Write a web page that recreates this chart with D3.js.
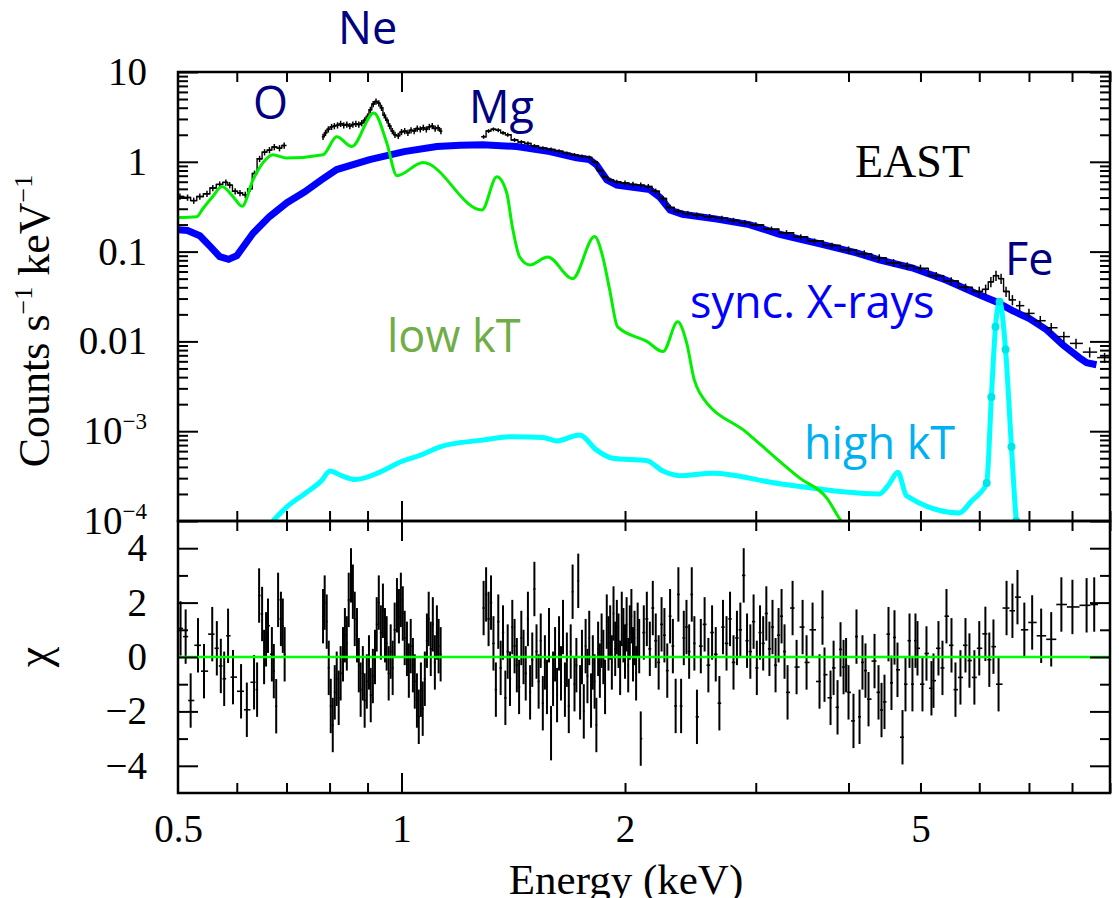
<!DOCTYPE html>
<html>
<head>
<meta charset="utf-8">
<script src="https://cdn.jsdelivr.net/npm/d3@7/dist/d3.min.js"></script>
<style>
    body { margin: 0; background: #fff; }
    svg text { font-family: "Liberation Serif", "Times New Roman", serif; }
</style>
</head>
<body>
<div id="chart"></div>
<script>
// tick labels
var xTickVals = [0.5, 1, 2, 5];
var xTickText = ["0.5", "1", "2", "5"];
var yTickVals = [10, 1, 0.1, 0.01, 1e-3, 1e-4];
var yTickText = ["10", "1", "0.1", "0.01", "10^−3", "10^−4"];
var chiTickVals = [4, 2, 0, -2, -4];
var chiTickText = ["4", "2", "0", "−2", "−4"];

// synchrotron (blue) model, keV / counts s-1 keV-1
var syncE = [0.5, 0.515, 0.535, 0.552, 0.569, 0.585, 0.60, 0.631, 0.664, 0.701, 0.74, 0.78, 0.818, 0.906, 1.008, 1.116, 1.2, 1.286, 1.43, 1.584, 1.72, 1.79, 1.83, 1.89, 1.95, 2.05, 2.16, 2.23, 2.30, 2.39, 2.66, 2.94, 3.23, 3.66, 4.10, 4.40, 4.87, 5.42, 6.0, 6.33, 6.65, 7.01, 7.39, 7.77, 8.18, 8.37, 8.63];
var syncV = [0.175, 0.172, 0.15, 0.115, 0.088, 0.082, 0.09, 0.16, 0.245, 0.35, 0.46, 0.63, 0.82, 1.06, 1.3, 1.48, 1.53, 1.55, 1.48, 1.30, 1.11, 1.06, 0.93, 0.63, 0.55, 0.52, 0.49, 0.40, 0.29, 0.26, 0.23, 0.20, 0.156, 0.122, 0.097, 0.081, 0.066, 0.048, 0.033, 0.0275, 0.022, 0.018, 0.0135, 0.0092, 0.0066, 0.0058, 0.0055];

// low kT (green) model
var lowE = [0.5, 0.53, 0.54, 0.557, 0.573, 0.593, 0.61, 0.631, 0.651, 0.671, 0.70, 0.784, 0.818, 0.857, 0.918, 0.955, 0.986, 1.069, 1.283, 1.344, 1.386, 1.41, 1.443, 1.489, 1.574, 1.70, 1.82, 1.867, 1.907, 1.955, 2.14, 2.25, 2.355, 2.42, 2.48, 2.52, 2.92, 3.44, 3.74, 3.91, 4.0];
var lowV = [0.24, 0.245, 0.30, 0.41, 0.53, 0.41, 0.32, 0.63, 0.98, 1.2, 1.1, 1.2, 1.9, 1.48, 3.5, 1.64, 0.7, 0.98, 0.29, 0.68, 0.45, 0.19, 0.087, 0.071, 0.087, 0.05, 0.147, 0.087, 0.0376, 0.0145, 0.01, 0.0077, 0.0165, 0.0098, 0.0037, 0.0027, 9.6e-4, 3.0e-4, 1.8e-4, 1.0e-4, 8e-5];

// high kT (cyan) model
var highE = [0.671, 0.701, 0.74, 0.78, 0.801, 0.83, 0.866, 0.935, 1.0, 1.06, 1.127, 1.275, 1.413, 1.55, 1.618, 1.738, 1.83, 1.925, 2.14, 2.25, 2.37, 2.62, 3.23, 4.40, 4.54, 4.66, 4.79, 5.64, 5.87, 6.0, 6.14, 6.23, 6.31, 6.39, 6.51, 6.63, 6.73, 6.8];
var highV = [1.0e-4, 1.44e-4, 2.0e-4, 2.8e-4, 3.6e-4, 3.2e-4, 2.9e-4, 3.5e-4, 4.6e-4, 5.4e-4, 6.7e-4, 7.9e-4, 8.7e-4, 8.5e-4, 7.8e-4, 9.1e-4, 6.2e-4, 5.0e-4, 4.7e-4, 3.6e-4, 3.2e-4, 3.4e-4, 2.6e-4, 2.0e-4, 2.6e-4, 3.5e-4, 1.9e-4, 1.23e-4, 1.7e-4, 2.0e-4, 2.65e-4, 2.4e-3, 0.0146, 0.0276, 8.1e-3, 6.7e-4, 1.0e-4, 5e-5];

// observed spectrum (black), three energy pieces
var obsAE = [0.503, 0.515, 0.525, 0.535, 0.547, 0.557, 0.569, 0.58, 0.587, 0.597, 0.606, 0.616, 0.625, 0.634, 0.644, 0.654, 0.664, 0.674, 0.685, 0.695];
var obsAV = [0.41, 0.40, 0.37, 0.41, 0.44, 0.51, 0.56, 0.59, 0.55, 0.47, 0.45, 0.43, 0.50, 0.74, 1.08, 1.28, 1.35, 1.46, 1.42, 1.52];
var obsBE = [0.784, 0.79, 0.797, 0.805, 0.812, 0.82, 0.828, 0.836, 0.844, 0.852, 0.86, 0.868, 0.876, 0.884, 0.892, 0.90, 0.908, 0.916, 0.924, 0.932, 0.94, 0.948, 0.956, 0.964, 0.972, 0.98, 0.99, 1.0, 1.01, 1.02, 1.03, 1.04, 1.05, 1.06, 1.07, 1.08, 1.09, 1.10, 1.11, 1.12, 1.13];
var obsBV = [1.9, 2.1, 2.3, 2.45, 2.5, 2.55, 2.65, 2.55, 2.6, 2.5, 2.6, 2.65, 2.6, 2.7, 2.9, 3.2, 3.8, 4.4, 4.7, 4.5, 4.0, 3.3, 2.9, 2.5, 2.2, 2.0, 1.95, 2.15, 2.2, 2.1, 2.25, 2.2, 2.35, 2.3, 2.4, 2.3, 2.45, 2.5, 2.35, 2.4, 2.2];
var obsCE = [1.29, 1.31, 1.33, 1.35, 1.37, 1.39, 1.42, 1.45, 1.48, 1.51, 1.55, 1.59, 1.63, 1.67, 1.71, 1.75, 1.79, 1.82, 1.85, 1.88, 1.91, 1.95, 2.0, 2.05, 2.1, 2.15, 2.2, 2.25, 2.3, 2.36, 2.43, 2.5, 2.6, 2.7, 2.8, 2.9, 3.0, 3.15, 3.3, 3.45, 3.6, 3.8, 4.0, 4.2, 4.4, 4.6, 4.8, 5.0, 5.25, 5.5, 5.75, 6.0, 6.12, 6.22, 6.32, 6.42, 6.52, 6.65, 6.8, 7.0, 7.25, 7.5, 7.8, 8.1, 8.45, 8.85];
var obsCV = [1.9, 2.2, 2.3, 2.25, 2.1, 2.0, 1.75, 1.66, 1.6, 1.5, 1.42, 1.37, 1.31, 1.24, 1.19, 1.15, 1.12, 1.0, 0.8, 0.68, 0.63, 0.6, 0.58, 0.56, 0.55, 0.53, 0.47, 0.39, 0.31, 0.28, 0.265, 0.255, 0.245, 0.235, 0.222, 0.21, 0.198, 0.178, 0.162, 0.146, 0.131, 0.117, 0.104, 0.094, 0.085, 0.075, 0.069, 0.065, 0.054, 0.047, 0.040, 0.036, 0.038, 0.046, 0.054, 0.050, 0.036, 0.029, 0.025, 0.0205, 0.017, 0.0142, 0.0113, 0.0095, 0.0076, 0.0066];

// residuals chi, [keV, chi]
var resA = [[0.504, 1.05], [0.512, 0.75], [0.520, -1.6], [0.532, 0.43], [0.542, -0.52], [0.556, 0.84], [0.564, 0.32], [0.571, -0.33], [0.577, -0.8], [0.584, 0.78], [0.593, -0.74], [0.608, -1.26], [0.619, -1.94], [0.633, -0.93], [0.639, -1.2], [0.643, 2.26], [0.649, 1.58], [0.653, 0.0], [0.657, 0.65], [0.661, 1.15], [0.669, 0.1], [0.673, -0.52], [0.678, -1.81], [0.682, 2.1], [0.688, 1.4], [0.692, 1.15], [0.696, 0.1]];
var resBE = [0.784, 0.788, 0.793, 0.798, 0.803, 0.808, 0.813, 0.818, 0.823, 0.828, 0.834, 0.839, 0.844, 0.849, 0.855, 0.860, 0.865, 0.871, 0.876, 0.881, 0.887, 0.892, 0.898, 0.904, 0.909, 0.915, 0.921, 0.926, 0.932, 0.938, 0.944, 0.950, 0.955, 0.961, 0.967, 0.973, 0.979, 0.986, 0.992, 0.998, 1.004, 1.010, 1.017, 1.023, 1.029, 1.036, 1.042, 1.049, 1.055, 1.062, 1.068, 1.075, 1.082, 1.088, 1.095, 1.102, 1.109, 1.116, 1.122, 1.129];
var resBChi = [1.5, 2.0, 1.3, -0.4, -1.8, -2.5, -1.3, -0.8, -1.5, -0.6, 0.1, 0.8, 0.5, 2.1, 3.0, 2.4, 1.4, 0.8, -0.3, -1.2, -0.6, -1.6, -0.9, -0.2, -1.4, -0.7, 0.0, 1.2, 2.0, 0.9, 1.7, 0.8, 0.5, -0.6, 0.2, -0.4, 1.0, 1.9, 1.5, 2.1, 1.6, 0.7, 0.3, -0.5, 0.4, -0.3, -0.9, -1.6, -2.2, -1.2, -1.9, -0.8, 0.6, 1.4, 0.3, 1.2, -0.2, 0.9, 0.4, 0.1];
var resC = [
    [1.29, 1.8], [1.30, 2.3], [1.31, 1.4], [1.32, 2.0], [1.33, 0.5], [1.34, -1.2], [1.35, 1.3], [1.36, -0.4], [1.37, 0.9], [1.38, -1.5],
    [1.39, 0.2], [1.40, -0.8], [1.41, 1.1], [1.42, 0.4], [1.43, -0.3], [1.44, -1.1], [1.45, 0.7], [1.46, 0.0], [1.47, -0.6], [1.48, 1.4],
    [1.49, -1.3], [1.50, -0.1], [1.51, 2.5], [1.52, 0.2], [1.53, -0.9], [1.54, 0.6], [1.55, -1.7], [1.56, -0.2], [1.57, -1.1], [1.58, 0.8],
    [1.59, -2.8], [1.60, -0.8], [1.61, 0.1], [1.62, -1.4], [1.63, 0.5], [1.64, -0.6], [1.65, 1.1], [1.66, -1.2], [1.67, -0.1], [1.68, -1.8],
    [1.69, 0.2], [1.70, 2.4], [1.71, -1.0], [1.72, -0.3], [1.73, 2.8], [1.74, -1.3], [1.75, 0.0], [1.76, -2.0], [1.77, 0.4], [1.78, -0.7],
    [1.79, 0.7], [1.80, -1.6], [1.81, -0.2], [1.82, -0.9], [1.83, -2.5], [1.84, 0.3], [1.85, -0.5], [1.86, 0.6], [1.87, 0.0], [1.88, -1.1],
    [1.89, 1.3], [1.90, 0.5], [1.91, 0.9], [1.92, -0.2], [1.93, 1.6], [1.94, 0.3], [1.95, 1.1], [1.96, 0.6], [1.97, -0.4], [1.98, 1.4],
    [1.99, 0.8], [2.00, 0.2], [2.01, 1.2], [2.02, -0.3], [2.03, 0.9], [2.04, 1.5], [2.05, 0.1], [2.06, 0.7], [2.07, -0.6], [2.08, 1.0],
    [2.09, 0.4], [2.10, -3.0],
    [2.12, 0.9], [2.14, 1.4], [2.16, 0.3], [2.18, 1.8], [2.20, 0.6], [2.22, -0.2], [2.24, 1.2], [2.26, 0.8], [2.28, -0.5], [2.30, 1.5],
    [2.32, 0.4], [2.34, -1.8], [2.36, 2.3], [2.38, -1.8], [2.40, 0.7], [2.42, 1.1], [2.44, 0.2], [2.46, 2.3], [2.48, 0.5], [2.50, -2.2],
    [2.53, 0.4], [2.56, 1.2], [2.59, -0.3], [2.62, 0.9], [2.65, 0.1], [2.68, -1.7], [2.71, 1.1], [2.74, 0.5], [2.77, 1.4], [2.80, -0.2],
    [2.83, 0.7], [2.86, 1.0], [2.89, 3.0], [2.92, 0.6], [2.95, 0.2], [2.98, 1.3], [3.01, -0.4], [3.04, 0.9], [3.07, 0.5], [3.10, 1.6],
    [3.13, 0.3], [3.16, 1.1], [3.19, -0.3], [3.22, 0.8], [3.25, 1.5], [3.28, 0.2],
    [3.311, -1.3], [3.363, 1.8], [3.405, -0.37], [3.469, 1.1], [3.512, -0.2], [3.578, 1.0], [3.656, -0.9], [3.690, 1.45], [3.713, -0.65], [3.783, -1.5],
    [3.819, -0.4], [3.866, -1.85], [3.902, 0.28], [3.939, -0.37], [3.97, -0.3], [4.0, -1.3], [4.062, -2.35], [4.100, 0.75], [4.139, -2.2], [4.177, -0.2],
    [4.216, -0.5], [4.256, -1.55], [4.336, -0.15], [4.390, -1.3], [4.431, -1.95], [4.472, -1.65], [4.528, 0.84], [4.570, -0.95], [4.613, 0.72], [4.656, -0.47],
    [4.729, -2.95], [4.773, -1.0], [4.833, 0.6], [4.877, -1.0], [4.923, 0.6], [4.954, 0.32], [5.031, -1.0], [5.094, 0.13], [5.173, -1.15], [5.206, -0.87],
    [5.287, 0.32], [5.353, -0.4], [5.420, 1.5], [5.505, 0.43], [5.573, -1.2], [5.660, -0.75], [5.749, 0.43], [5.820, -0.13], [5.910, -0.75], [6.0, 0.32],
    [6.115, 0.85], [6.19, -0.1], [6.27, 0.38], [6.37, -1.0], [6.53, 1.8], [6.65, 1.7], [6.755, 2.2], [6.90, 1.0], [7.07, 1.27], [7.27, 0.78],
    [7.50, 0.65], [7.74, 1.93], [8.01, 1.84], [8.37, 1.9], [8.57, 1.93]
];

(function () {
    var W = 1119, H = 898;
    var left = 178, right = 1110, top = 72, mid = 521, bottom = 793;

    var svg = d3.select("#chart").append("svg")
        .attr("width", W).attr("height", H);

    var x = d3.scaleLog().domain([0.5, 9]).range([left, right]);
    var y = d3.scaleLog().domain([1e-4, 10]).range([mid, top]);
    var yc = d3.scaleLinear().domain([-5, 5]).range([bottom, mid]);

    svg.append("clipPath").attr("id", "clipTop").append("rect")
        .attr("x", left).attr("y", top).attr("width", right - left).attr("height", mid - top);

    // bin edges from neighbouring energies
    function bins(E) {
        return E.map(function (e, i) {
            var lo = i > 0 ? Math.sqrt(E[i - 1] * e) : e * Math.sqrt(e / E[i + 1]);
            var hi = i < E.length - 1 ? Math.sqrt(e * E[i + 1]) : e * Math.sqrt(e / E[i - 1]);
            return [lo, hi];
        });
    }
    function relErr(e) { return e < 1.2 ? 0.08 : e < 2 ? 0.05 : e < 4 ? 0.07 : e < 6 ? 0.1 : 0.13; }

    var plot = svg.append("g").attr("clip-path", "url(#clipTop)");
    var line = d3.line().x(function (d) { return x(d[0]); }).y(function (d) { return y(d[1]); });
    var step = d3.line().curve(d3.curveStep)
        .x(function (d) { return x(d[0]); }).y(function (d) { return y(d[1]); });

    // blue synchrotron
    plot.append("path").datum(d3.zip(syncE, syncV))
        .attr("fill", "none").attr("stroke", "#0000ff").attr("stroke-width", 7)
        .attr("d", line);

    // observed data: binned step (dense part) + error crosses
    [[obsAE, obsAV], [obsBE, obsBV], [obsCE, obsCV]].forEach(function (s) {
        var E = s[0], V = s[1], b = bins(E);
        plot.append("path").datum(d3.zip(E, V).filter(function (d) { return d[0] < 6.7; }))
            .attr("fill", "none").attr("stroke", "#000").attr("stroke-width", 1.4)
            .attr("d", step);
        var g = plot.append("g").attr("stroke", "#000").attr("stroke-width", 1.5);
        g.selectAll(".h").data(E).enter().append("line")
            .attr("x1", function (d, i) { return x(b[i][0]); })
            .attr("x2", function (d, i) { return x(b[i][1]); })
            .attr("y1", function (d, i) { return y(V[i]); })
            .attr("y2", function (d, i) { return y(V[i]); });
        g.selectAll(".v").data(E).enter().append("line")
            .attr("x1", function (d) { return x(d); })
            .attr("x2", function (d) { return x(d); })
            .attr("y1", function (d, i) { return y(V[i] * (1 + relErr(d))); })
            .attr("y2", function (d, i) { return y(V[i] * (1 - relErr(d))); });
    });

    // cyan high kT
    var smooth = d3.line().curve(d3.curveMonotoneX)
        .x(function (d) { return x(d[0]); }).y(function (d) { return y(d[1]); });
    plot.append("path").datum(d3.zip(highE, highV))
        .attr("fill", "none").attr("stroke", "#00ffff").attr("stroke-width", 5)
        .attr("d", smooth);
    plot.selectAll(".fe").data(d3.zip(highE, highV).filter(function (d) { return d[0] > 6.1; }))
        .enter().append("circle")
        .attr("cx", function (d) { return x(d[0]); })
        .attr("cy", function (d) { return y(d[1]); })
        .attr("r", 4).attr("fill", "#00e5e5");

    // green low kT
    plot.append("path").datum(d3.zip(lowE, lowV))
        .attr("fill", "none").attr("stroke", "#00f000").attr("stroke-width", 3)
        .attr("d", smooth);

    // residuals
    var rg = svg.append("g").attr("stroke", "#000");
    var resB = d3.zip(resBE, resBChi);
    [resA, resB, resC].forEach(function (r) {
        var b = bins(r.map(function (d) { return d[0]; }));
        rg.selectAll(null).data(r).enter().append("line")
            .attr("stroke-width", 2)
            .attr("x1", function (d) { return x(d[0]); })
            .attr("x2", function (d) { return x(d[0]); })
            .attr("y1", function (d) { return yc(d[1] + 1); })
            .attr("y2", function (d) { return yc(d[1] - 1); });
        rg.selectAll(null).data(r).enter().append("line")
            .attr("stroke-width", 1.6)
            .attr("x1", function (d, i) { return x(b[i][0]); })
            .attr("x2", function (d, i) { return x(b[i][1]); })
            .attr("y1", function (d) { return yc(d[1]); })
            .attr("y2", function (d) { return yc(d[1]); });
    });
    svg.append("line")
        .attr("x1", left).attr("x2", right).attr("y1", yc(0)).attr("y2", yc(0))
        .attr("stroke", "#00ff00").attr("stroke-width", 2.5);

    // ticks
    function ticks(axis, tx, ty, vals, size) {
        var g = svg.append("g").attr("transform", "translate(" + tx + "," + ty + ")")
            .call(axis.tickValues(vals).tickSize(size).tickFormat(""));
        g.select(".domain").remove();
        g.selectAll(".tick line").attr("stroke", "#000").attr("stroke-width", 2);
    }
    var xMinor = [0.6, 0.7, 0.8, 0.9, 2, 3, 4, 5, 6, 7, 8, 9];
    var yMinor = [];
    [1e-4, 1e-3, 1e-2, 0.1, 1].forEach(function (dec) {
        for (var m = 2; m <= 9; m++) yMinor.push(m * dec);
    });
    ticks(d3.axisTop(x), 0, top, xMinor, -10);
    ticks(d3.axisTop(x), 0, top, [1], -20);
    ticks(d3.axisBottom(x), 0, mid, xMinor, -10);
    ticks(d3.axisBottom(x), 0, mid, [1], -20);
    ticks(d3.axisTop(x), 0, mid, xMinor, -10);
    ticks(d3.axisTop(x), 0, mid, [1], -20);
    ticks(d3.axisBottom(x), 0, bottom, xMinor, -10);
    ticks(d3.axisBottom(x), 0, bottom, [1], -20);
    ticks(d3.axisLeft(y), left, 0, yMinor, -10);
    ticks(d3.axisLeft(y), left, 0, yTickVals, -20);
    ticks(d3.axisRight(y), right, 0, yMinor, -10);
    ticks(d3.axisRight(y), right, 0, yTickVals, -20);
    ticks(d3.axisLeft(yc), left, 0, [-3, -1, 1, 3], -10);
    ticks(d3.axisLeft(yc), left, 0, chiTickVals, -20);
    ticks(d3.axisRight(yc), right, 0, [-3, -1, 1, 3], -10);
    ticks(d3.axisRight(yc), right, 0, chiTickVals, -20);

    // frames
    svg.append("rect").attr("x", left).attr("y", top).attr("width", right - left).attr("height", mid - top)
        .attr("fill", "none").attr("stroke", "#000").attr("stroke-width", 2.5);
    svg.append("rect").attr("x", left).attr("y", mid).attr("width", right - left).attr("height", bottom - mid)
        .attr("fill", "none").attr("stroke", "#000").attr("stroke-width", 2.5);

    // tick labels
    function labels(axis, tx, ty, vals, texts, pad) {
        var g = svg.append("g").attr("transform", "translate(" + tx + "," + ty + ")")
            .call(axis.tickValues(vals).tickSize(0).tickPadding(pad)
                .tickFormat(function (d, i) { return texts[i]; }));
        g.select(".domain").remove();
        g.attr("font-family", "Liberation Serif, serif").attr("font-size", 39);
        g.selectAll(".tick text").attr("fill", "#000").each(function (d, i) {
            var t = texts[i];
            if (t.indexOf("^") >= 0) {
                var parts = t.split("^");
                var el = d3.select(this).text(parts[0]);
                el.append("tspan").attr("dy", -15).attr("font-size", 23).text(parts[1]);
            }
        });
        return g;
    }
    labels(d3.axisLeft(y), left, 0, yTickVals, yTickText, 31);
    labels(d3.axisLeft(yc), left, 0, chiTickVals, chiTickText, 31);
    labels(d3.axisBottom(x), 0, bottom, xTickVals, xTickText, 21);

    // axis titles
    var yt = svg.append("text").attr("transform", "translate(49,321) rotate(-90)")
        .attr("text-anchor", "middle").attr("font-size", 44).attr("fill", "#000");
    yt.append("tspan").text("Counts s");
    yt.append("tspan").attr("dy", -17).attr("font-size", 26).text("−1");
    yt.append("tspan").attr("dy", 17).text(" keV");
    yt.append("tspan").attr("dy", -17).attr("font-size", 26).text("−1");

    svg.append("text").attr("transform", "translate(49,657) rotate(-90)")
        .attr("text-anchor", "middle").attr("font-size", 46).attr("fill", "#000").text("χ");

    svg.append("text").attr("x", 626).attr("y", 894).attr("text-anchor", "middle")
        .attr("font-size", 43).attr("fill", "#000").text("Energy (keV)");

    svg.append("text").attr("x", 855).attr("y", 177).attr("font-size", 46)
        .attr("fill", "#000").text("EAST");

    // line / component annotations
    var notes = [
        { t: "O", x: 253, y: 119, c: "#000080" },
        { t: "Ne", x: 338, y: 44, c: "#000080" },
        { t: "Mg", x: 469, y: 123, c: "#000080" },
        { t: "Fe", x: 1005, y: 275, c: "#000080" },
        { t: "sync. X-rays", x: 690, y: 318, c: "#0000ff" },
        { t: "low kT", x: 387, y: 352, c: "#70ad47" },
        { t: "high kT", x: 804, y: 459, c: "#00b0f0" }
    ];
    svg.selectAll(".note").data(notes).enter().append("text")
        .attr("x", function (d) { return d.x; })
        .attr("y", function (d) { return d.y; })
        .attr("fill", function (d) { return d.c; })
        .style("font-family", "'Open Sans', sans-serif")
        .attr("font-size", 45)
        .text(function (d) { return d.t; });
})();
</script>
</body>
</html>
